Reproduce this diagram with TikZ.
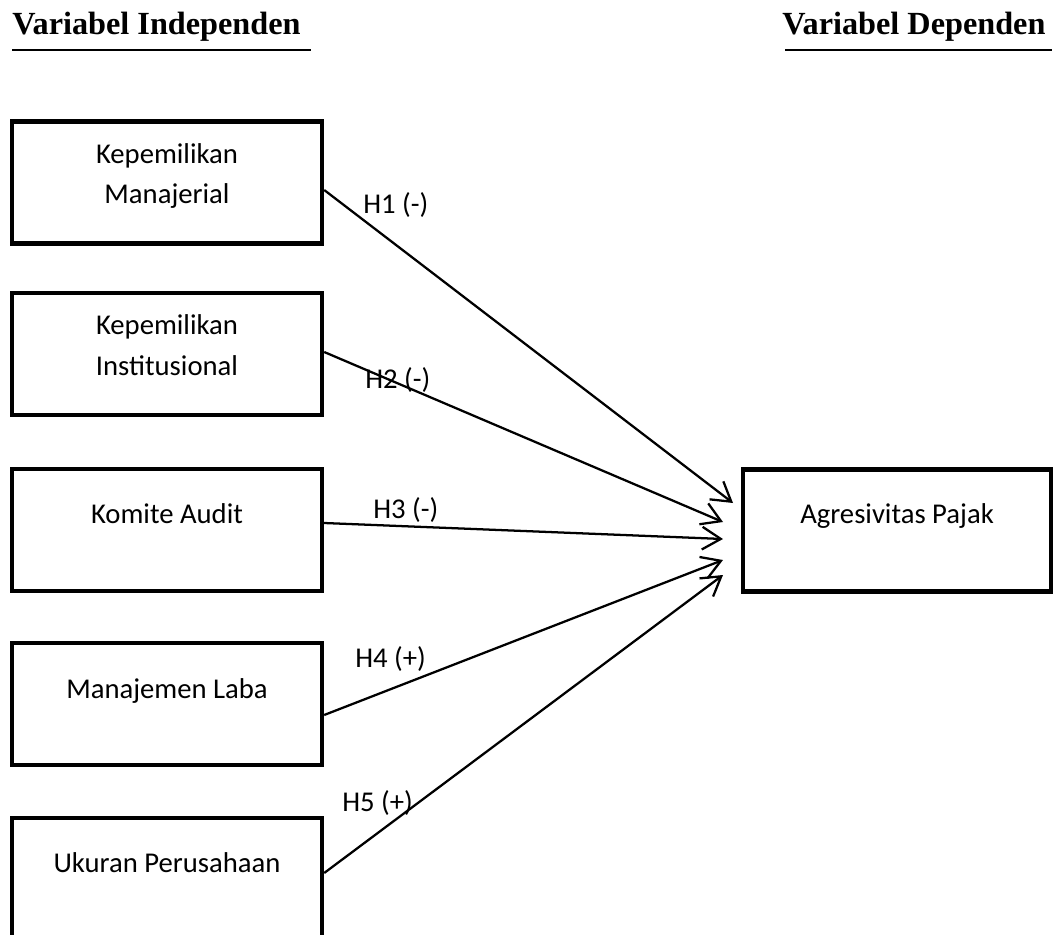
\documentclass[tikz,border=0pt]{standalone}
\usepackage{fontspec}
\setmainfont{Carlito}
\newfontfamily\headfont{Liberation Serif}
\usetikzlibrary{arrows.meta}
\begin{document}
\begin{tikzpicture}[x=0.75pt,y=-0.75pt,
  varbox/.style={draw, line width=3.3pt, minimum width=232.5pt, minimum height=91.5pt, inner sep=0pt},
  boxtext/.style={anchor=base, inner sep=0pt, font=\fontsize{21.5}{25}\selectfont},
  hlabel/.style={anchor=base west, inner sep=0pt, font=\fontsize{21.5}{25}\selectfont},
  heading/.style={anchor=base west, inner sep=0pt, font=\fontsize{24.2}{28}\selectfont\headfont\bfseries},
  hline/.style={line width=1.5pt},
  link/.style={line width=1.7pt, -{Straight Barb[length=14pt, width=17pt, line width=1.7pt]}}]
\path[use as bounding box, clip] (0,0) rectangle (1054,935);
\fill[white] (0,0) rectangle (1054,935);

% headings
\node[heading] (hi) at (12,35) {Variabel Independen};
\node[heading] (hd) at (782,35) {Variabel Dependen};
\coordinate (hiA) at (12,50); \coordinate (hiB) at (311,50);
\coordinate (hdA) at (785,50); \coordinate (hdB) at (1052,50);
\draw[hline] (hiA) -- (hiB);
\draw[hline] (hdA) -- (hdB);

% boxes
\node[varbox] (b1) at (167,182.5) {};
\node[varbox] (b2) at (167,354) {};
\node[varbox] (b3) at (167,530) {};
\node[varbox] (b4) at (167,704) {};
\node[varbox] (b5) at (167,879) {};
\node[varbox, minimum width=231pt] (y) at (897,530.5) {};

% box texts
\node[boxtext] (t1a) at (167,163) {Kepemilikan};
\node[boxtext] (t1b) at (167,203) {Manajerial};
\node[boxtext] (t2a) at (167,334) {Kepemilikan};
\node[boxtext] (t2b) at (167,375) {Institusional};
\node[boxtext] (t3) at (167,523) {Komite Audit};
\node[boxtext] (t4) at (167,698) {Manajemen Laba};
\node[boxtext] (t5) at (167,872) {Ukuran Perusahaan};
\node[boxtext] (ty) at (897,523) {Agresivitas Pajak};

% arrow ends
\coordinate (e1) at (733,503);
\coordinate (e2) at (723,522);
\coordinate (e3) at (723,539);
\coordinate (e4) at (723,560);
\coordinate (e5) at (723,575);

\draw[link] (b1.east) ++(0,7.5) -- (e1);
\draw[link] (b2.east) ++(0,-2) -- (e2);
\draw[link] (b3.east) ++(0,-7) -- (e3);
\draw[link] (b4.east) ++(0,11) -- (e4);
\draw[link] (b5.east) ++(0,-6) -- (e5);

% labels
\node[hlabel] (l1) at (363,213) {H1 (-)};
\node[hlabel] (l2) at (365,388) {H2 (-)};
\node[hlabel] (l3) at (373,518) {H3 (-)};
\node[hlabel] (l4) at (355,667) {H4 (+)};
\node[hlabel] (l5) at (342,811) {H5 (+)};
\end{tikzpicture}
\end{document}
